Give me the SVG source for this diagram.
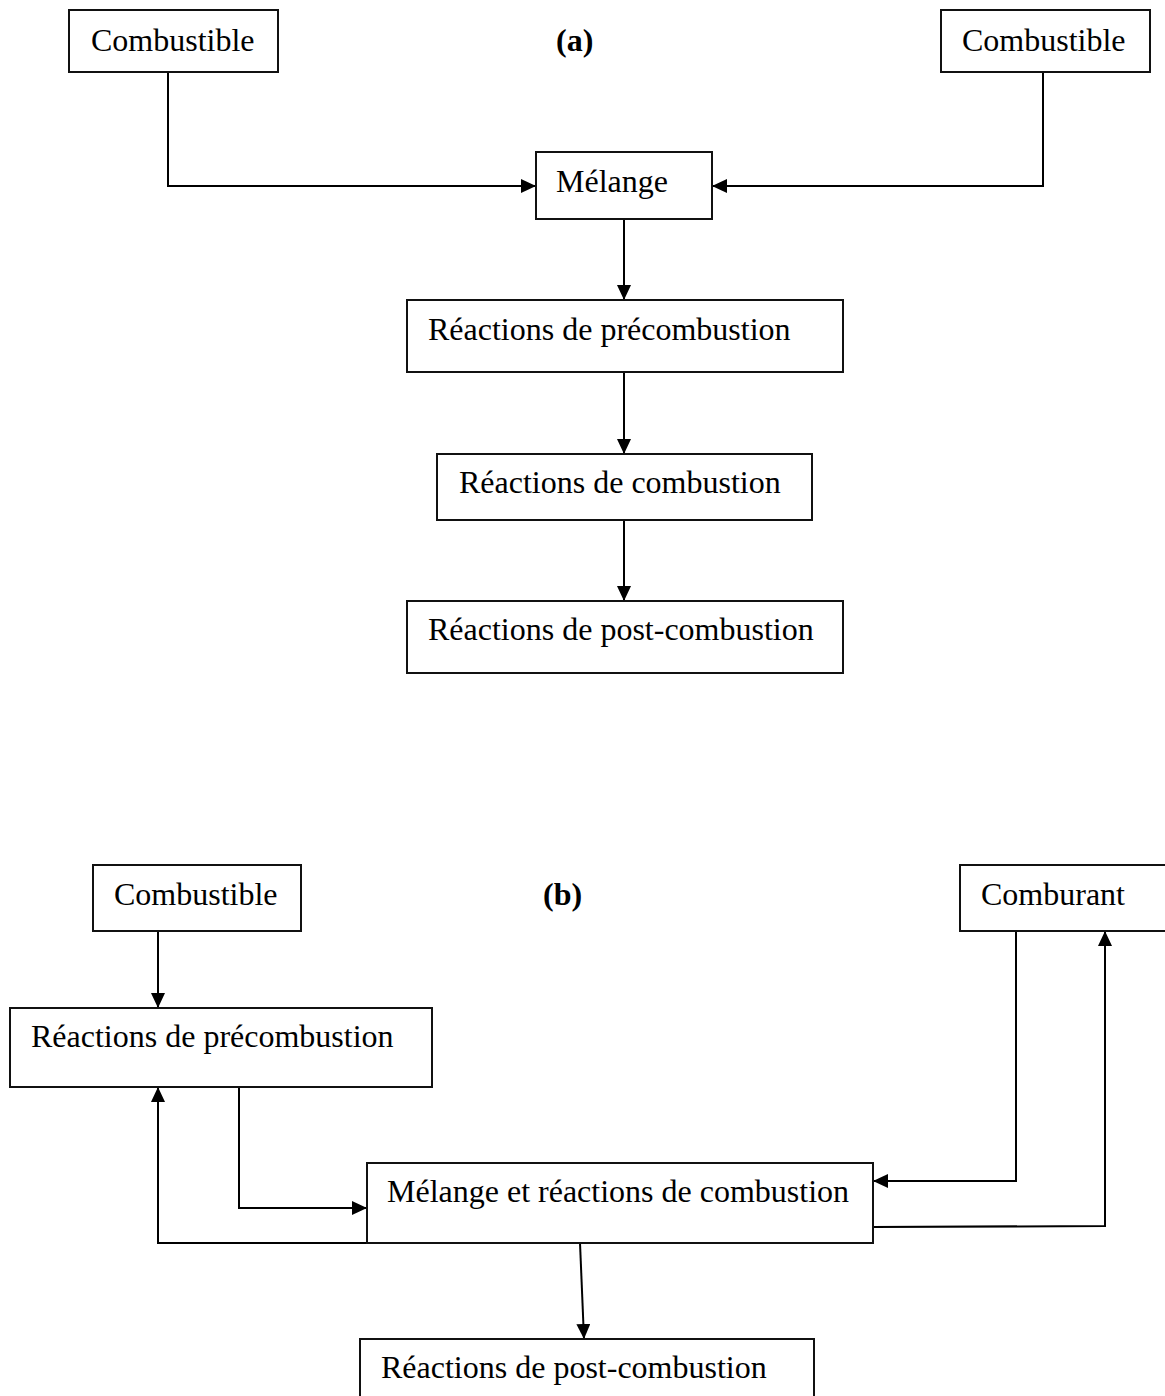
<svg xmlns="http://www.w3.org/2000/svg" width="1165" height="1396" viewBox="0 0 1165 1396">
<style>
.box{fill:#fff;stroke:#111;stroke-width:2}
.t{font-family:"Liberation Serif","Times New Roman",serif;font-size:32px;fill:#000}
.lab{font-family:"Liberation Serif","Times New Roman",serif;font-size:32px;font-weight:bold;fill:#000}
.c{fill:none;stroke:#000;stroke-width:2}
</style>
<defs>
<marker id="ah" markerUnits="userSpaceOnUse" markerWidth="15" markerHeight="14" refX="15" refY="7" orient="auto">
<path d="M0,0 L15,7 L0,14 z" fill="#000"/>
</marker>
</defs>
<rect width="1165" height="1396" fill="#fff"/>
<text class="lab" x="556" y="51">(a)</text>
<text class="lab" x="543" y="905">(b)</text>
<g id="connectors">
<path class="c" d="M168,72 V186 H536" marker-end="url(#ah)"/>
<path class="c" d="M1043,72 V186 H712" marker-end="url(#ah)"/>
<path class="c" d="M624,219 V300" marker-end="url(#ah)"/>
<path class="c" d="M624,372 V454" marker-end="url(#ah)"/>
<path class="c" d="M624,520 V601" marker-end="url(#ah)"/>
<path class="c" d="M158,931 V1008" marker-end="url(#ah)"/>
<path class="c" d="M239,1087 V1208 H367" marker-end="url(#ah)"/>
<path class="c" d="M367,1243 H158 V1087" marker-end="url(#ah)"/>
<path class="c" d="M1016,931 V1181 H873" marker-end="url(#ah)"/>
<path class="c" d="M873,1227 L1105,1226 V931" marker-end="url(#ah)"/>
<path class="c" d="M580,1243 L584,1339" marker-end="url(#ah)"/>
</g>
<g id="a-combustible-left"><rect class="box" x="69" y="10" width="209" height="62"/><text class="t" x="91" y="51">Combustible</text></g>
<g id="a-combustible-right"><rect class="box" x="941" y="10" width="209" height="62"/><text class="t" x="962" y="51">Combustible</text></g>
<g id="a-melange"><rect class="box" x="536" y="152" width="176" height="67"/><text class="t" x="556" y="192">Mélange</text></g>
<g id="a-precombustion"><rect class="box" x="407" y="300" width="436" height="72"/><text class="t" x="428" y="340">Réactions de précombustion</text></g>
<g id="a-combustion"><rect class="box" x="437" y="454" width="375" height="66"/><text class="t" x="459" y="493">Réactions de combustion</text></g>
<g id="a-postcombustion"><rect class="box" x="407" y="601" width="436" height="72"/><text class="t" x="428" y="640">Réactions de post-combustion</text></g>
<g id="b-combustible"><rect class="box" x="93" y="865" width="208" height="66"/><text class="t" x="114" y="905">Combustible</text></g>
<g id="b-comburant"><rect class="box" x="960" y="865" width="215" height="66"/><text class="t" x="981" y="905">Comburant</text></g>
<g id="b-precombustion"><rect class="box" x="10" y="1008" width="422" height="79"/><text class="t" x="31" y="1047">Réactions de précombustion</text></g>
<g id="b-melange-combustion"><rect class="box" x="367" y="1163" width="506" height="80"/><text class="t" x="387" y="1202">Mélange et réactions de combustion</text></g>
<g id="b-postcombustion"><rect class="box" x="360" y="1339" width="454" height="80"/><text class="t" x="381" y="1378">Réactions de post-combustion</text></g>
</svg>
